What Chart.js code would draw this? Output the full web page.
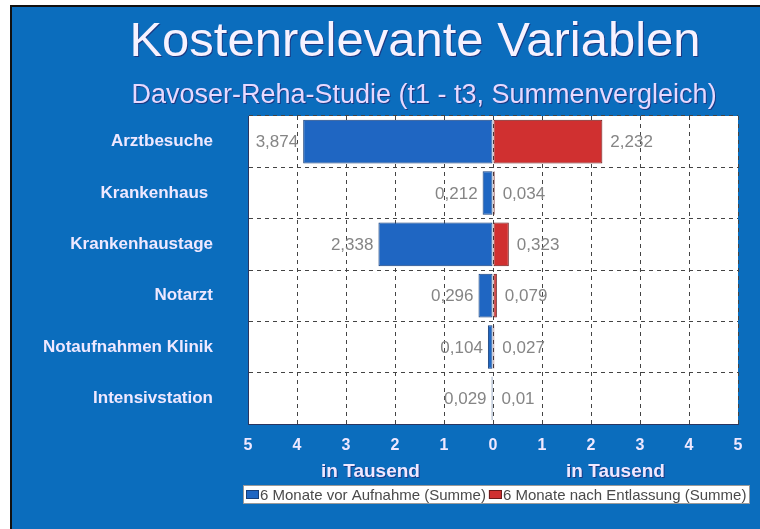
<!DOCTYPE html>
<html>
<head>
<meta charset="utf-8">
<script src="https://cdn.jsdelivr.net/npm/chart.js@4/dist/chart.umd.min.js"></script>
<style>
	html, body { margin: 0; padding: 0; background: #fff; }
	canvas { display: block; }
</style>
</head>
<body>
<canvas id="chart" width="760" height="529"></canvas>
<script>
const categories = ['Arztbesuche', 'Krankenhaus ', 'Krankenhaustage', 'Notarzt', 'Notaufnahmen Klinik', 'Intensivstation'];
const vorAufnahme = [3.874, 0.212, 2.338, 0.296, 0.104, 0.029];
const nachEntlassung = [2.232, 0.034, 0.323, 0.079, 0.027, 0.01];
const seriesLabels = ['6 Monate vor Aufnahme (Summe)', '6 Monate nach Entlassung (Summe)'];
const xTicks = [-5, -4, -3, -2, -1, 0, 1, 2, 3, 4, 5];
const titleText = 'Kostenrelevante Variablen';
const subtitleText = 'Davoser-Reha-Studie (t1 - t3, Summenvergleich)';
const axisText = 'in Tausend';

const FONT = "'Liberation Sans', Arial, sans-serif";
const BG = '#0b6dbd',
	BLUE = '#1f66c2',
	RED = '#d03030',
	LAV = '#efe8ff';

const fmt = v => String(v).replace('.', ',');

// background frame, plot white area, titles, value labels, legend
const decor = {
	id: 'decor',
	beforeDraw(chart) {
		const { ctx, chartArea: a } = chart;
		ctx.save();
		ctx.fillStyle = '#fff';
		ctx.fillRect(0, 0, chart.width, chart.height);
		ctx.fillStyle = BG;
		ctx.fillRect(11, 6, chart.width - 11, chart.height - 6);
		ctx.strokeStyle = '#111';
		ctx.lineWidth = 2;
		ctx.beginPath();
		ctx.moveTo(11, chart.height);
		ctx.lineTo(11, 6);
		ctx.lineTo(chart.width, 6);
		ctx.stroke();
		ctx.fillStyle = '#fff';
		ctx.fillRect(a.left, a.top, a.right - a.left, a.bottom - a.top);
		ctx.restore();
	},
	afterDatasetsDraw(chart) {
		const { ctx } = chart;
		ctx.save();
		ctx.font = '17px ' + FONT;
		ctx.fillStyle = '#858585';
		ctx.textBaseline = 'middle';
		chart.getDatasetMeta(0).data.forEach((el, i) => {
			ctx.textAlign = 'right';
			ctx.fillText(fmt(vorAufnahme[i]), el.x - 5, el.y + 1);
		});
		chart.getDatasetMeta(1).data.forEach((el, i) => {
			ctx.textAlign = 'left';
			ctx.fillText(fmt(nachEntlassung[i]), el.x + 8, el.y + 1);
		});
		ctx.restore();
	},
	afterDraw(chart) {
		const { ctx, chartArea: a, scales } = chart;
		const x = scales.x;
		ctx.save();
		ctx.textAlign = 'center';
		ctx.textBaseline = 'alphabetic';
		ctx.shadowColor = 'rgba(40,20,90,0.6)';
		ctx.shadowOffsetX = 1;
		ctx.shadowOffsetY = 1;
		ctx.fillStyle = '#f6f2ff';
		ctx.font = '49px ' + FONT;
		ctx.fillText(titleText, 415, 56);
		ctx.fillStyle = '#e6d9ff';
		ctx.font = '27px ' + FONT;
		ctx.fillText(subtitleText, 424, 103);

		ctx.fillStyle = LAV;
		ctx.font = 'bold 19px ' + FONT;
		ctx.textBaseline = 'middle';
		ctx.fillText(axisText, (a.left + x.getPixelForValue(0)) / 2, 472);
		ctx.fillText(axisText, (a.right + x.getPixelForValue(0)) / 2, 472);
		ctx.shadowColor = 'transparent';

		// legend box
		const lx = 243, ly = 485, lw = 507, lh = 19;
		ctx.fillStyle = '#fff';
		ctx.fillRect(lx, ly, lw, lh);
		ctx.strokeStyle = '#9a9a9a';
		ctx.lineWidth = 1;
		ctx.strokeRect(lx + 0.5, ly + 0.5, lw - 1, lh - 1);
		ctx.font = '15px ' + FONT;
		ctx.textAlign = 'left';
		let px = lx + 3;
		chart.data.datasets.forEach(ds => {
			ctx.fillStyle = ds.backgroundColor;
			ctx.fillRect(px, ly + 5, 13, 9);
			ctx.strokeStyle = ds.borderColor;
			ctx.strokeRect(px + 0.5, ly + 5.5, 12, 8);
			ctx.fillStyle = '#4a4a4a';
			ctx.fillText(ds.label, px + 14, ly + lh / 2 + 1);
			px += 14 + ctx.measureText(ds.label).width + 3;
		});
		ctx.restore();
	}
};

new Chart(document.getElementById('chart'), {
	type: 'bar',
	data: {
		labels: categories,
		datasets: [{
			label: seriesLabels[0],
			data: vorAufnahme.map(v => -v),
			backgroundColor: BLUE,
			borderColor: '#173f7a',
			borderWidth: 1,
			borderSkipped: false
		}, {
			label: seriesLabels[1],
			data: nachEntlassung,
			backgroundColor: RED,
			borderColor: '#6a1a1a',
			borderWidth: 1,
			borderSkipped: false
		}]
	},
	options: {
		indexAxis: 'y',
		responsive: false,
		devicePixelRatio: 1,
		animation: false,
		barPercentage: 1,
		categoryPercentage: 0.85,
		layout: { padding: { left: 0, top: 116, right: 22, bottom: 0 } },
		plugins: {
			legend: { display: false },
			tooltip: { enabled: false }
		},
		scales: {
			x: {
				stacked: true,
				min: -5,
				max: 5,
				afterBuildTicks: s => { s.ticks = xTicks.map(v => ({ value: v })); },
				afterFit: s => { s.height = 105; },
				grid: { color: '#444', lineWidth: 1, drawTicks: false },
				border: { display: true, color: '#2a3560', width: 1, dash: [4, 4] },
				ticks: {
					color: LAV,
					font: { family: FONT, size: 16, weight: 'bold' },
					padding: 12,
					callback: v => Math.abs(v)
				}
			},
			y: {
				stacked: true,
				afterFit: s => { s.width = 248; },
				grid: { color: '#444', lineWidth: 1, drawTicks: false },
				border: { display: true, color: '#2a3560', width: 1, dash: [4, 4] },
				ticks: {
					color: LAV,
					font: { family: FONT, size: 17, weight: 'bold' },
					padding: 35
				}
			}
		}
	},
	plugins: [decor]
});
</script>
</body>
</html>
